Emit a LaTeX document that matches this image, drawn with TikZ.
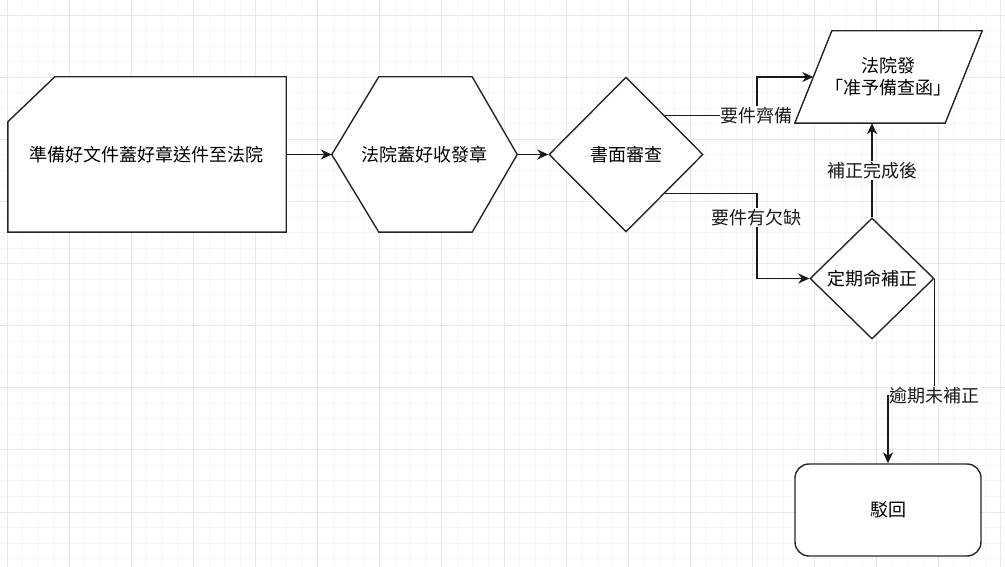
\documentclass[tikz,border=0pt]{standalone}
\usepackage{fontspec}
\newfontfamily\cjkfont{Noto Sans CJK TC}
\usetikzlibrary{positioning,arrows.meta,calc,shapes.geometric,backgrounds}

\begin{document}
\begin{tikzpicture}[
  x=1pt, y=-1pt,
  font=\cjkfont\fontsize{18}{22}\selectfont,
  shapeline/.style={draw=black!85, line width=1.4pt, fill=white, line join=miter},
  blank/.style={inner sep=0pt, align=center},
  dbox/.style={diamond, shapeline, inner sep=0pt, align=center},
  endbox/.style={rectangle, shapeline, rounded corners=14pt, align=center},
  arr/.style={-{Stealth[length=11pt, width=10pt, inset=3.5pt]}, line width=1.4pt, black!90},
  lab/.style={fill=white, inner sep=1pt},
  gridminor/.style={black!4, line width=0.6pt},
  gridmajor/.style={black!9, line width=0.6pt}
]
\useasboundingbox (0,0) rectangle (1005,567);
% ----- background grid -----
\begin{pgfonlayer}{background}
\foreach \i in {0,...,64}{\draw[gridminor] ({7+15.525*\i},0) -- ({7+15.525*\i},567);}
\foreach \j in {0,...,35}{\draw[gridminor] (0,{15+15.525*\j}) -- (1005,{15+15.525*\j});}
\foreach \i in {0,...,16}{\draw[gridmajor] ({7+62.1*\i},0) -- ({7+62.1*\i},567);}
\foreach \j in {0,...,8}{\draw[gridmajor] (0,{15+62.1*\j}) -- (1005,{15+62.1*\j});}
\end{pgfonlayer}
% ----- main row -----
\node[blank, minimum width=278pt, minimum height=155pt] (send) at (147,154.5) {準備好文件蓋好章送件至法院};
\node[blank, minimum width=185pt, minimum height=155pt] (stamp) at (424.5,154.5) {法院蓋好收發章};
\node[dbox, minimum width=154pt, minimum height=155pt] (review) at (626,154.5) {書面審查};
% ----- right column -----
\node[blank, minimum width=187pt, minimum height=92pt] (notice) at (888.5,77) {法院發\\「准予備查函」};
\node[dbox, minimum width=124pt, minimum height=121pt] (amend) at (872,278.5) {定期命補正};
\node[endbox, minimum width=186pt, minimum height=92pt] (reject) at (888,510) {駁回};
% ----- outlines of card, hexagon, parallelogram -----
\begin{pgfonlayer}{background}
\draw[shapeline] ([yshift=-45pt]send.north west) -- ([xshift=47pt]send.north west) -- (send.north east)
  -- (send.south east) -- (send.south west) -- cycle;
\draw[shapeline] (stamp.west) -- ([xshift=47pt]stamp.north west) -- ([xshift=-45pt]stamp.north east)
  -- (stamp.east) -- ([xshift=-45pt]stamp.south east) -- ([xshift=47pt]stamp.south west) -- cycle;
\draw[shapeline] (notice.south west) -- ([xshift=37pt]notice.north west) -- (notice.north east)
  -- ([xshift=-37pt]notice.south east) -- cycle;
\end{pgfonlayer}
% ----- connectors -----
\draw[arr] (send) -- (stamp);
\draw[arr] (stamp) -- (review);
\coordinate (reviewne) at ($(review.north)!0.5!(review.east)$);
\coordinate (reviewse) at ($(review.south)!0.5!(review.east)$);
\coordinate (noticew) at ([xshift=18.5pt]notice.west);
\draw[arr] (reviewne) -- ++(92,0) node[lab]{要件齊備} |- (noticew);
\draw[arr] (reviewse) -- ++(92,0) |- node[lab, pos=0.14]{要件有欠缺} (amend.west);
\draw[arr] (amend.north) -- node[lab]{補正完成後} (amend.north |- notice.south);
\draw[arr] (amend.east) -- ++(0,117) node[lab]{逾期未補正} -| (reject.north);
\end{tikzpicture}
\end{document}
